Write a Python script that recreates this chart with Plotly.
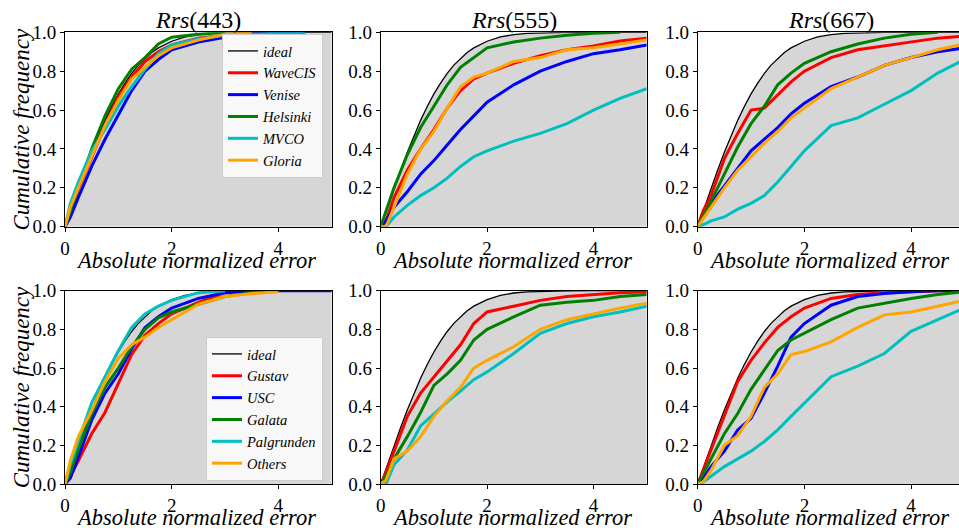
import plotly.graph_objects as go

# ---------------- data ----------------
X = [0, 0.1, 0.25, 0.5, 0.75, 1.0, 1.25, 1.5, 1.75, 2.0, 2.5, 3.0, 3.5, 4.0, 4.5, 5.0]

IDEAL_X = [0, 0.125, 0.25, 0.375, 0.5, 0.625, 0.75, 0.875, 1.0, 1.125, 1.25, 1.375, 1.5,
           1.625, 1.75, 1.875, 2.0, 2.25, 2.5, 2.75, 3.0, 3.5, 4.0, 4.5, 5.0]
IDEAL_Y = [0, 0.0995, 0.197, 0.292, 0.383, 0.468, 0.547, 0.618, 0.683, 0.739, 0.789, 0.831, 0.866,
           0.896, 0.920, 0.939, 0.954, 0.976, 0.988, 0.994, 0.997, 0.9995, 1.0, 1.0, 1.0]

# Rrs(443)
wavecis_443 = [0, 0.07, 0.19, 0.36, 0.52, 0.67, 0.77, 0.85, 0.90, 0.935, 0.97, 0.985, 0.99, None, None, None]
venise_443 = [0, 0.05, 0.15, 0.31, 0.45, 0.575, 0.70, 0.80, 0.86, 0.91, 0.95, 0.975, 0.99, 0.995, 1.0, None]
helsinki_443 = [0, 0.08, 0.21, 0.40, 0.57, 0.71, 0.81, 0.87, 0.94, 0.975, 0.99, 1.0, None, None, None, None]
mvco_443 = [0, 0.12, 0.23, 0.39, 0.50, 0.62, 0.72, 0.81, 0.89, 0.935, 0.965, 0.985, 0.99, 0.995, 1.0, None]
gloria_443 = [0, 0.10, 0.20, 0.36, 0.52, 0.65, 0.76, 0.82, 0.88, 0.92, 0.96, 0.99, 1.0, None, None, None]

# Rrs(555)
wavecis_555 = [0, 0.03, 0.15, 0.29, 0.40, 0.50, 0.61, 0.70, 0.76, 0.79, 0.84, 0.88, 0.91, 0.93, 0.955, 0.97]
venise_555 = [0, 0.03, 0.10, 0.18, 0.27, 0.34, 0.42, 0.50, 0.57, 0.64, 0.73, 0.80, 0.85, 0.89, 0.91, 0.935]
helsinki_555 = [0, 0.08, 0.20, 0.37, 0.51, 0.62, 0.73, 0.82, 0.87, 0.92, 0.95, 0.97, 0.985, 0.995, 1.0, None]
mvco_555 = [0, 0.0, 0.05, 0.11, 0.16, 0.20, 0.25, 0.31, 0.36, 0.39, 0.44, 0.48, 0.53, 0.60, 0.66, 0.71]
gloria_555 = [0, 0.0, 0.10, 0.27, 0.40, 0.49, 0.61, 0.72, 0.77, 0.79, 0.85, 0.87, 0.91, 0.92, 0.94, 0.96]

# Rrs(667)
wavecis_667 = [0, 0.08, 0.16, 0.35, 0.48, 0.60, 0.61, 0.68, 0.745, 0.80, 0.87, 0.91, 0.93, 0.95, 0.97, 0.98]
venise_667 = [0, 0.05, 0.12, 0.21, 0.30, 0.39, 0.45, 0.51, 0.58, 0.635, 0.72, 0.77, 0.83, 0.87, 0.90, 0.92]
helsinki_667 = [0, 0.05, 0.13, 0.27, 0.41, 0.53, 0.62, 0.73, 0.79, 0.84, 0.90, 0.94, 0.97, 0.99, 1.0, None]
mvco_667 = [0, 0.01, 0.03, 0.05, 0.09, 0.12, 0.16, 0.23, 0.31, 0.39, 0.52, 0.56, 0.63, 0.70, 0.79, 0.86]
gloria_667 = [0, 0.04, 0.10, 0.20, 0.29, 0.36, 0.43, 0.49, 0.56, 0.61, 0.71, 0.77, 0.83, 0.87, 0.91, 0.94]

# second row, Rrs(443)
gustav_443 = [0, 0.04, 0.12, 0.26, 0.37, 0.52, 0.67, 0.77, 0.83, 0.88, 0.94, 0.99, 1.0, None, None, None]
usc_443 = [0, 0.03, 0.14, 0.33, 0.47, 0.57, 0.70, 0.81, 0.865, 0.91, 0.96, 0.99, 1.0, 1.0, 1.0, 1.0]
galata_443 = [0, 0.06, 0.18, 0.36, 0.50, 0.60, 0.71, 0.80, 0.86, 0.89, 0.93, 0.97, 0.99, 1.0, None, None]
palgrunden_443 = [0, 0.10, 0.22, 0.42, 0.555, 0.69, 0.81, 0.88, 0.92, 0.95, 0.99, 1.0, None, None, None, None]
others_443 = [0, 0.12, 0.245, 0.38, 0.53, 0.65, 0.72, 0.76, 0.81, 0.85, 0.93, 0.97, 0.985, 0.995, None, None]

# second row, Rrs(555)
gustav_555 = [0, 0.06, 0.17, 0.35, 0.47, 0.555, 0.64, 0.72, 0.83, 0.89, 0.92, 0.95, 0.97, 0.98, 0.99, 0.995]
usc_555 = [None] * 16
galata_555 = [0, 0.04, 0.13, 0.245, 0.37, 0.51, 0.57, 0.64, 0.745, 0.80, 0.865, 0.925, 0.94, 0.95, 0.97, 0.98]
palgrunden_555 = [0, 0.0, 0.10, 0.175, 0.30, 0.365, 0.425, 0.48, 0.54, 0.58, 0.675, 0.78, 0.83, 0.865, 0.89, 0.92]
others_555 = [0, 0.02, 0.13, 0.17, 0.245, 0.35, 0.43, 0.50, 0.60, 0.64, 0.71, 0.80, 0.85, 0.88, 0.91, 0.935]

# second row, Rrs(667)
gustav_667 = [0, 0.07, 0.17, 0.35, 0.53, 0.64, 0.73, 0.81, 0.865, 0.91, 0.96, 0.98, 0.99, 0.995, 1.0, 1.0]
usc_667 = [0, 0.03, 0.09, 0.17, 0.28, 0.34, 0.47, 0.61, 0.76, 0.83, 0.925, 0.97, 0.985, 0.995, 1.0, 1.0]
galata_667 = [0, 0.05, 0.13, 0.26, 0.365, 0.49, 0.59, 0.69, 0.745, 0.78, 0.85, 0.91, 0.935, 0.96, 0.98, 0.995]
palgrunden_667 = [0, 0.01, 0.04, 0.09, 0.13, 0.17, 0.22, 0.28, 0.35, 0.42, 0.555, 0.61, 0.675, 0.79, 0.85, 0.91]
others_667 = [0, 0.01, 0.07, 0.20, 0.25, 0.35, 0.50, 0.57, 0.67, 0.685, 0.735, 0.81, 0.875, 0.89, 0.92, 0.95]

TITLES = ["443", "555", "667"]
ROW1_NAMES = ["WaveCIS", "Venise", "Helsinki", "MVCO", "Gloria"]
ROW2_NAMES = ["Gustav", "USC", "Galata", "Palgrunden", "Others"]
COLORS = ["#ff0000", "#0000ff", "#008000", "#00bfbf", "#ffa500"]
X_TICKS = [0, 2, 4]
Y_TICKS = [0.0, 0.2, 0.4, 0.6, 0.8, 1.0]

ROW1 = [
    [wavecis_443, venise_443, helsinki_443, mvco_443, gloria_443],
    [wavecis_555, venise_555, helsinki_555, mvco_555, gloria_555],
    [wavecis_667, venise_667, helsinki_667, mvco_667, gloria_667],
]
ROW2 = [
    [gustav_443, usc_443, galata_443, palgrunden_443, others_443],
    [gustav_555, usc_555, galata_555, palgrunden_555, others_555],
    [gustav_667, usc_667, galata_667, palgrunden_667, others_667],
]

# ---------------- layout geometry ----------------
W, H = 959, 531
col_px = [(65, 331.7), (380.7, 646.7), (697.7, 959)]
col_range = [[0, 5], [0, 5], [0, 5 * (959 - 697.7) / 266.7]]
row_px = [(32.3, 226.7), (290.7, 484.0)]

FONT = "Liberation Serif"
fig = go.Figure()

legend_names = ["legend", "legend2"]
for r, rowdata in enumerate([ROW1, ROW2]):
    names = ROW1_NAMES if r == 0 else ROW2_NAMES
    for c in range(3):
        idx = r * 3 + c + 1
        xa = "x" if idx == 1 else f"x{idx}"
        ya = "y" if idx == 1 else f"y{idx}"
        show = (c == 0)
        leg = legend_names[r]
        # gray fill under ideal
        fig.add_trace(go.Scatter(x=IDEAL_X, y=IDEAL_Y, mode="lines", fill="tozeroy",
                                 fillcolor="#d6d6d6", line=dict(width=0, color="#d6d6d6"),
                                 showlegend=False, hoverinfo="skip", xaxis=xa, yaxis=ya))
        fig.add_trace(go.Scatter(x=IDEAL_X, y=IDEAL_Y, mode="lines", name="<i>ideal</i>",
                                 line=dict(color="black", width=1.3), showlegend=show,
                                 legend=leg, xaxis=xa, yaxis=ya))
        for k, (nm, col) in enumerate(zip(names, COLORS)):
            yv = rowdata[c][k]
            fig.add_trace(go.Scatter(x=X, y=yv, mode="lines", name=f"<i>{nm}</i>",
                                     line=dict(color=col, width=3), showlegend=show,
                                     legend=leg, xaxis=xa, yaxis=ya, connectgaps=False))

        dom_x = [col_px[c][0] / W, min(col_px[c][1] / W, 1.0)]
        dom_y = [1 - row_px[r][1] / H, 1 - row_px[r][0] / H]
        axis_common = dict(showline=True, linecolor="black", linewidth=1, ticks="outside",
                           ticklen=4, tickcolor="black", showgrid=False, zeroline=False,
                           automargin=False,
                           tickfont=dict(family=FONT, size=19, color="black"))
        xkey = "xaxis" if idx == 1 else f"xaxis{idx}"
        ykey = "yaxis" if idx == 1 else f"yaxis{idx}"
        fig.layout[xkey] = dict(domain=dom_x, range=col_range[c], tickvals=X_TICKS,
                                anchor=ya, mirror=True, **axis_common)
        fig.layout[ykey] = dict(domain=dom_y, range=[0, 1], tickvals=Y_TICKS, tickformat=".1f",
                                anchor=xa, mirror=(c != 2), **axis_common)

        # x axis label
        fig.add_annotation(text="<i>Absolute normalized error</i>", xref="paper", yref="paper",
                           x=(col_px[c][0] + 131) / W, y=1 - (row_px[r][1] + 33.5) / H,
                           xanchor="center", yanchor="middle", showarrow=False,
                           font=dict(family=FONT, size=22.5, color="black"))
        if r == 0:
            fig.add_annotation(text=f"<i>Rrs</i>({TITLES[c]})", xref="paper", yref="paper",
                               x=(col_px[c][0] + 133.3) / W, y=1 - 20 / H,
                               xanchor="center", yanchor="middle", showarrow=False,
                               font=dict(family=FONT, size=24, color="black"))
        if c == 0:
            fig.add_annotation(text="<i>Cumulative frequency</i>", xref="paper", yref="paper",
                               x=21 / W, y=1 - (sum(row_px[r]) / 2) / H, textangle=-90,
                               xanchor="center", yanchor="middle", showarrow=False,
                               font=dict(family=FONT, size=23, color="black"))

leg_common = dict(bgcolor="rgba(248,248,248,1)", bordercolor="#cccccc", borderwidth=1,
                  font=dict(family=FONT, size=14.5, color="black"), tracegroupgap=0,
                  xanchor="right", itemwidth=30)
fig.update_layout(
    width=W, height=H, margin=dict(l=0, r=0, t=0, b=0, autoexpand=False),
    paper_bgcolor="white", plot_bgcolor="white",
    legend=dict(x=323 / W, y=1 - 34 / H, yanchor="top", **leg_common),
    legend2=dict(x=323 / W, y=1 - 481 / H, yanchor="bottom", **leg_common),
)

fig.write_html("out.html")
